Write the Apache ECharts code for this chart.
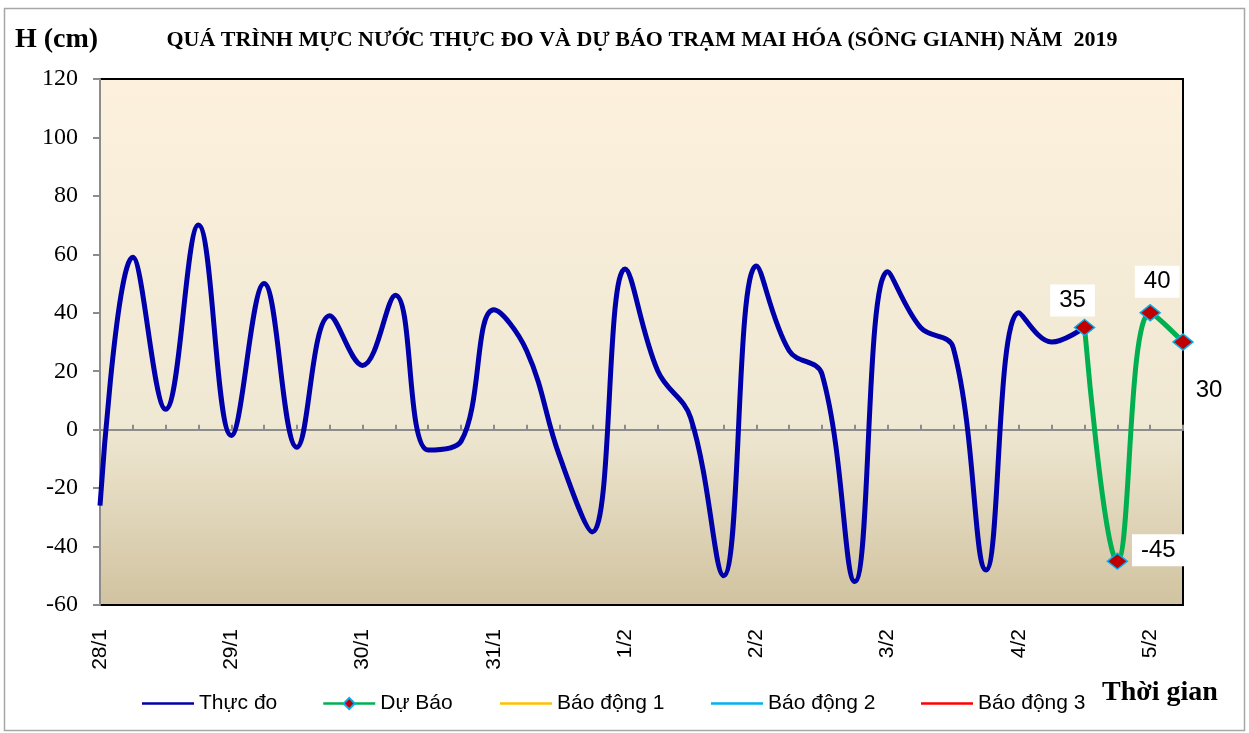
<!DOCTYPE html>
<html>
<head>
<meta charset="utf-8">
<script src="https://cdn.jsdelivr.net/npm/echarts@6/dist/echarts.min.js"></script>
<style>
html, body { margin: 0; padding: 0; background: #fff; }
#chart { width: 1249px; height: 733px; }
</style>
</head>
<body>
<div id="chart"></div>
<script>
// 6-hourly steps, a date label every 4 steps
var categories = [
  "28/1", "28/1", "28/1", "28/1",
  "29/1", "29/1", "29/1", "29/1",
  "30/1", "30/1", "30/1", "30/1",
  "31/1", "31/1", "31/1", "31/1",
  "1/2", "1/2", "1/2", "1/2",
  "2/2", "2/2", "2/2", "2/2",
  "3/2", "3/2", "3/2", "3/2",
  "4/2", "4/2", "4/2", "4/2",
  "5/2", "5/2",
];
// Thực đo (measured), from the first step
var measured = [
  -26, 59, 7, 70, -2, 50, -6, 39, 22, 46,
  -7, -4, 41, 27, -9, -35, 55, 20, 4, -50,
  56, 27, 19, -52, 54, 35, 28, -48, 40, 30,
  35,
];
// Dự Báo (forecast), starts where the measured line ends
var forecastStart = 30;
var forecast = [35, -45, 40, 30];
// alarm levels are off the chart range here
var alarm1 = [];
var alarm2 = [];
var alarm3 = [];
var yTicks = { min: -60, max: 120, step: 20 };

var serif = "'Liberation Serif', 'DejaVu Serif', serif";
var sans = "'Liberation Sans', Arial, sans-serif";

// label placement for each forecast point
var labelOffsets = [[-12, -27], [41, -11], [7, -31], [26, 48]];
var labelBoxed = [true, true, true, false];

var forecastData = categories.map(function (c, i) {
  var k = i - forecastStart;
  if (k < 0 || k >= forecast.length) return null;
  return {
    value: forecast[k],
    label: {
      show: true,
      position: "inside",
      offset: labelOffsets[k],
      backgroundColor: labelBoxed[k] ? "#fff" : "transparent",
      padding: [5, 9, 3, 9],
    },
  };
});

// one legend per entry so each sits where the reference has it
var legendSpots = [
  { name: "Thực đo", left: 137, plain: true },
  { name: "Dự Báo", left: 317, plain: false },
  { name: "Báo động 1", left: 495, plain: true },
  { name: "Báo động 2", left: 706, plain: true },
  { name: "Báo động 3", left: 916, plain: true },
];
var legends = legendSpots.map(function (l) {
  return {
    left: l.left,
    top: 688,
    itemWidth: 52,
    itemHeight: l.plain ? 2.5 : 14,
    icon: l.plain ? "rect" : undefined,
    textStyle: { fontFamily: sans, fontSize: 21, color: "#000" },
    lineStyle: { width: 2.5 },
    data: [l.name],
  };
});

var chart = echarts.init(document.getElementById("chart"), null, { renderer: "canvas" });

var option = {
  backgroundColor: "#fff",
  animation: false,
  title: {
    text: "QUÁ TRÌNH MỰC NƯỚC THỰC ĐO VÀ DỰ BÁO TRẠM MAI HÓA (SÔNG GIANH) NĂM  2019",
    left: 637,
    top: 24,
    textAlign: "center",
    textStyle: { fontFamily: serif, fontWeight: "bold", fontSize: 22, color: "#000" },
  },
  graphic: [
    {
      type: "rect",
      shape: { x: 4.5, y: 8.5, width: 1240, height: 722 },
      style: { fill: "none", stroke: "#a6a6a6", lineWidth: 1.5 },
      z: -1,
    },
    {
      type: "text",
      left: 15,
      top: 26,
      style: { text: "H (cm)", font: "bold 28px " + serif, fill: "#000" },
    },
    {
      type: "text",
      left: 1102,
      top: 679,
      style: { text: "Thời gian", font: "bold 28px " + serif, fill: "#000" },
    },
  ],
  legend: legends,
  grid: {
    left: 100,
    right: 66,
    top: 79,
    bottom: 128,
    show: true,
    borderColor: "#000",
    borderWidth: 2,
    backgroundColor: new echarts.graphic.LinearGradient(0, 0, 0, 1, [
      { offset: 0, color: "#fdf1dd" },
      { offset: 0.65, color: "#efe8d3" },
      { offset: 1, color: "#d1c3a0" },
    ]),
  },
  xAxis: [
    {
      type: "category",
      data: categories,
      boundaryGap: false,
      position: "bottom",
      axisLine: { show: false, onZero: false },
      axisTick: { show: false },
      axisLabel: {
        interval: 3,
        rotate: 90,
        margin: 24,
        fontFamily: sans,
        fontSize: 21,
        color: "#000",
      },
      splitLine: { show: false },
    },
    {
      type: "category",
      data: categories,
      boundaryGap: false,
      position: "top",
      axisLine: { show: true, onZero: true, onZeroAxisIndex: 0, lineStyle: { color: "#8c8c8c", width: 2 } },
      axisTick: { show: true, interval: 0, length: 5, lineStyle: { color: "#8c8c8c", width: 2 } },
      axisLabel: { show: false },
      splitLine: { show: false },
    },
  ],
  yAxis: {
    type: "value",
    min: yTicks.min,
    max: yTicks.max,
    interval: yTicks.step,
    axisLine: { show: true, lineStyle: { color: "#8c8c8c", width: 2 } },
    axisTick: { show: true, length: 7, lineStyle: { color: "#8c8c8c", width: 2 } },
    axisLabel: { margin: 22, fontFamily: serif, fontSize: 24, color: "#000" },
    splitLine: { show: false },
  },
  series: [
    {
      name: "Thực đo",
      type: "line",
      data: measured,
      xAxisIndex: 0,
      smooth: 0.4,
      showSymbol: false,
      symbol: "none",
      lineStyle: { color: "#0000aa", width: 5 },
      itemStyle: { color: "#0000aa" },
      z: 3,
    },
    {
      name: "Dự Báo",
      type: "line",
      data: forecastData,
      xAxisIndex: 0,
      smooth: 0.4,
      symbol: "diamond",
      symbolSize: [20, 16],
      showAllSymbol: true,
      lineStyle: { color: "#00b050", width: 5 },
      itemStyle: { color: "#c00000", borderColor: "#00b0f0", borderWidth: 1.5 },
      label: { fontFamily: sans, fontSize: 24, color: "#000" },
      z: 4,
    },
    {
      name: "Báo động 1",
      type: "line",
      data: alarm1,
      symbol: "none",
      lineStyle: { color: "#ffc000", width: 2 },
      itemStyle: { color: "#ffc000" },
    },
    {
      name: "Báo động 2",
      type: "line",
      data: alarm2,
      symbol: "none",
      lineStyle: { color: "#00b0f0", width: 2 },
      itemStyle: { color: "#00b0f0" },
    },
    {
      name: "Báo động 3",
      type: "line",
      data: alarm3,
      symbol: "none",
      lineStyle: { color: "#ff0000", width: 2 },
      itemStyle: { color: "#ff0000" },
    },
  ],
};

chart.setOption(option);
</script>
</body>
</html>
